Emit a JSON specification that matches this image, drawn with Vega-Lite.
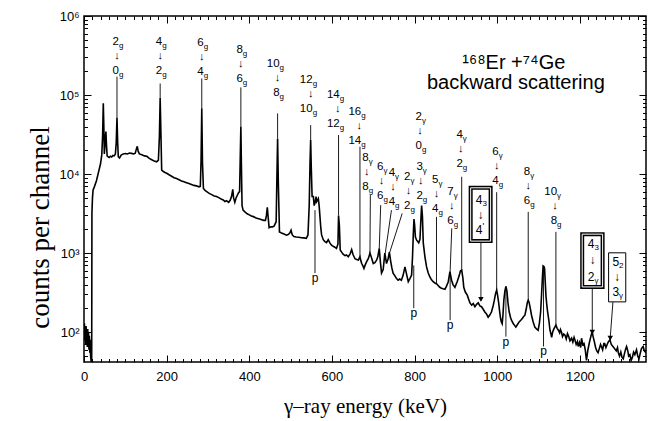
{
"$schema":"https://vega.github.io/schema/vega-lite/v6.json",
"width":562,"height":346,
"autosize":{"type":"none"},
"padding":{"left":84,"top":16,"right":3,"bottom":59},
"background":"white",
"config":{
 "view":{"stroke":"black","strokeWidth":1.5},
 "mark":{"color":"black"},
 "axis":{"domain":false,"grid":false,"tickColor":"black","tickWidth":1,"labelColor":"black","labelFont":"Liberation Sans","labelFontSize":13,"titleColor":"black","titleFont":"Liberation Serif","titleFontSize":21,"titleFontWeight":"normal","labelFlush":false},
 "text":{"font":"Liberation Sans","color":"black","fill":"black"}
},
"datasets":{
"spec":[
{"E":0,"c":95},{"E":1,"c":130},{"E":2,"c":80},{"E":3,"c":115},{"E":4,"c":70},{"E":5,"c":120},{"E":6,"c":90},{"E":7,"c":105},{"E":8,"c":65},{"E":9,"c":110},{"E":10,"c":75},{"E":11,"c":100},{"E":12,"c":60},{"E":13,"c":90},{"E":14,"c":55},{"E":15,"c":80},{"E":16,"c":50},{"E":17,"c":44},{"E":18,"c":42},{"E":18.6,"c":42},{"E":19.2,"c":3200},{"E":20.5,"c":5000},{"E":22,"c":6300},{"E":25,"c":6900},{"E":30,"c":8200},{"E":35,"c":10500},{"E":40,"c":13500},{"E":43,"c":17500},{"E":45,"c":30000},{"E":46.7,"c":79000},{"E":48,"c":40000},{"E":49.2,"c":18000},{"E":50.5,"c":22000},{"E":52,"c":30000},{"E":53,"c":34600},{"E":54.3,"c":24000},{"E":56,"c":17000},{"E":58,"c":16600},{"E":61,"c":16200},{"E":64,"c":16800},{"E":67,"c":16500},{"E":70,"c":17200},{"E":73,"c":17000},{"E":76,"c":18000},{"E":78,"c":25000},{"E":79.8,"c":52000},{"E":81.5,"c":25000},{"E":83,"c":16600},{"E":86,"c":16000},{"E":90,"c":17400},{"E":95,"c":18000},{"E":100,"c":18200},{"E":105,"c":18000},{"E":110,"c":18500},{"E":115,"c":18300},{"E":120,"c":18000},{"E":124,"c":18400},{"E":127,"c":21000},{"E":129,"c":22500},{"E":131,"c":19500},{"E":134,"c":18000},{"E":140,"c":17600},{"E":146,"c":17000},{"E":152,"c":16800},{"E":158,"c":15800},{"E":164,"c":15200},{"E":170,"c":14600},{"E":176,"c":14300},{"E":180,"c":15000},{"E":182.5,"c":30000},{"E":184.3,"c":92000},{"E":186,"c":35000},{"E":188,"c":11200},{"E":192,"c":10800},{"E":196,"c":10500},{"E":200,"c":10250},{"E":206,"c":9800},{"E":212,"c":9400},{"E":218,"c":9000},{"E":224,"c":8800},{"E":230,"c":8500},{"E":236,"c":8200},{"E":242,"c":8000},{"E":248,"c":7800},{"E":254,"c":7600},{"E":260,"c":7400},{"E":266,"c":7200},{"E":272,"c":7100},{"E":278,"c":6900},{"E":281.5,"c":7000},{"E":283.3,"c":15000},{"E":285,"c":68000},{"E":286.7,"c":14000},{"E":289,"c":6600},{"E":293,"c":6200},{"E":297,"c":6000},{"E":303,"c":5700},{"E":309,"c":5500},{"E":315,"c":5300},{"E":321,"c":5200},{"E":327,"c":5000},{"E":333,"c":4800},{"E":337,"c":4700},{"E":341,"c":4500},{"E":345,"c":4600},{"E":350,"c":4400},{"E":354,"c":4700},{"E":357,"c":5200},{"E":360,"c":6400},{"E":362,"c":5000},{"E":365,"c":4400},{"E":368,"c":5000},{"E":371,"c":5400},{"E":374,"c":5800},{"E":376.5,"c":6000},{"E":378,"c":15000},{"E":379.6,"c":40000},{"E":381,"c":12000},{"E":382.5,"c":4000},{"E":385,"c":3500},{"E":390,"c":3300},{"E":395,"c":3150},{"E":400,"c":3050},{"E":405,"c":2950},{"E":410,"c":2900},{"E":415,"c":2800},{"E":420,"c":2750},{"E":425,"c":2700},{"E":430,"c":2650},{"E":435,"c":2600},{"E":439,"c":2600},{"E":441.5,"c":3000},{"E":443.6,"c":3800},{"E":445.5,"c":2900},{"E":448,"c":2100},{"E":452,"c":2150},{"E":456,"c":2150},{"E":460,"c":2200},{"E":465,"c":2500},{"E":466.8,"c":9000},{"E":468.5,"c":28000},{"E":470.2,"c":8000},{"E":473,"c":1850},{"E":478,"c":1800},{"E":484,"c":1750},{"E":490,"c":1690},{"E":494,"c":1720},{"E":498,"c":1800},{"E":501,"c":1950},{"E":504,"c":1700},{"E":508,"c":1620},{"E":514,"c":1600},{"E":520,"c":1590},{"E":526,"c":1570},{"E":532,"c":1560},{"E":538,"c":1540},{"E":542,"c":1700},{"E":545,"c":4000},{"E":547,"c":14000},{"E":548.5,"c":27000},{"E":550,"c":12000},{"E":552,"c":5200},{"E":555,"c":5200},{"E":557,"c":4000},{"E":559,"c":4300},{"E":561.5,"c":5200},{"E":563,"c":4500},{"E":565,"c":4700},{"E":567,"c":4900},{"E":569,"c":4000},{"E":571,"c":2900},{"E":573,"c":2100},{"E":575,"c":1700},{"E":579,"c":1480},{"E":583,"c":1400},{"E":587,"c":1360},{"E":591,"c":1480},{"E":595,"c":1350},{"E":599,"c":1260},{"E":603,"c":1220},{"E":607,"c":1190},{"E":611,"c":1150},{"E":614.5,"c":1300},{"E":616,"c":3000},{"E":618,"c":2200},{"E":620,"c":1100},{"E":623.5,"c":1030},{"E":627,"c":970},{"E":631.5,"c":930},{"E":635,"c":950},{"E":639.5,"c":900},{"E":644,"c":980},{"E":647.7,"c":1110},{"E":651,"c":960},{"E":655.7,"c":850},{"E":660,"c":830},{"E":664,"c":820},{"E":667.8,"c":900},{"E":670,"c":800},{"E":672,"c":740},{"E":675,"c":690},{"E":677.5,"c":640},{"E":680,"c":700},{"E":684,"c":780},{"E":688,"c":850},{"E":692,"c":1000},{"E":695,"c":900},{"E":700,"c":740},{"E":704,"c":760},{"E":708,"c":815},{"E":711,"c":900},{"E":714.5,"c":1150},{"E":717,"c":800},{"E":720,"c":560},{"E":724,"c":620},{"E":728,"c":1000},{"E":732,"c":740},{"E":736,"c":850},{"E":739,"c":1030},{"E":742,"c":800},{"E":745,"c":650},{"E":748,"c":560},{"E":752,"c":520},{"E":756,"c":480},{"E":760,"c":455},{"E":764,"c":470},{"E":768,"c":455},{"E":772,"c":520},{"E":776.7,"c":670},{"E":780,"c":560},{"E":784.7,"c":435},{"E":789,"c":480},{"E":792.8,"c":527},{"E":795,"c":900},{"E":797,"c":1800},{"E":798.5,"c":2700},{"E":800,"c":2300},{"E":802,"c":1600},{"E":805,"c":1460},{"E":810,"c":1350},{"E":813,"c":1500},{"E":815,"c":2500},{"E":817,"c":4000},{"E":819,"c":2900},{"E":821,"c":1350},{"E":825,"c":900},{"E":829,"c":670},{"E":833,"c":560},{"E":837,"c":500},{"E":841,"c":460},{"E":845,"c":435},{"E":849,"c":420},{"E":853,"c":410},{"E":857,"c":390},{"E":861,"c":370},{"E":865,"c":360},{"E":869,"c":355},{"E":873.5,"c":350},{"E":877,"c":380},{"E":881.5,"c":435},{"E":885.5,"c":585},{"E":889.5,"c":455},{"E":893,"c":400},{"E":897.6,"c":370},{"E":903,"c":435},{"E":908,"c":520},{"E":911,"c":600},{"E":914,"c":610},{"E":917,"c":480},{"E":919,"c":370},{"E":923,"c":320},{"E":927.5,"c":294},{"E":931,"c":260},{"E":934,"c":235},{"E":938,"c":220},{"E":942,"c":230},{"E":946,"c":210},{"E":950,"c":225},{"E":954,"c":235},{"E":958,"c":215},{"E":962,"c":210},{"E":966,"c":195},{"E":970,"c":180},{"E":974,"c":170},{"E":978,"c":155},{"E":982,"c":165},{"E":986,"c":180},{"E":990,"c":215},{"E":993,"c":254},{"E":996,"c":310},{"E":998.6,"c":340},{"E":1001,"c":290},{"E":1003.5,"c":235},{"E":1006,"c":180},{"E":1008,"c":150},{"E":1010,"c":135},{"E":1012,"c":128},{"E":1014,"c":170},{"E":1016,"c":254},{"E":1018.5,"c":330},{"E":1021,"c":380},{"E":1023.5,"c":330},{"E":1026,"c":235},{"E":1029,"c":180},{"E":1032,"c":155},{"E":1035,"c":140},{"E":1039,"c":128},{"E":1042,"c":122},{"E":1045,"c":116},{"E":1049,"c":125},{"E":1053,"c":135},{"E":1057,"c":142},{"E":1061,"c":150},{"E":1064,"c":158},{"E":1067,"c":164},{"E":1070,"c":195},{"E":1073,"c":240},{"E":1075,"c":254},{"E":1077,"c":240},{"E":1080,"c":200},{"E":1083,"c":164},{"E":1087,"c":135},{"E":1091,"c":116},{"E":1095,"c":110},{"E":1099,"c":106},{"E":1102,"c":130},{"E":1105,"c":180},{"E":1107,"c":280},{"E":1109,"c":450},{"E":1111,"c":690},{"E":1113,"c":680},{"E":1114.5,"c":640},{"E":1116,"c":450},{"E":1118,"c":285},{"E":1120,"c":220},{"E":1122,"c":180},{"E":1125,"c":140},{"E":1127.6,"c":106},{"E":1130,"c":95},{"E":1131.7,"c":86},{"E":1134,"c":100},{"E":1137,"c":110},{"E":1140,"c":118},{"E":1142,"c":123},{"E":1145,"c":112},{"E":1148,"c":106},{"E":1151,"c":98},{"E":1153,"c":108},{"E":1155.6,"c":100},{"E":1158,"c":88},{"E":1161,"c":95},{"E":1164,"c":92},{"E":1167,"c":82},{"E":1170,"c":96},{"E":1173,"c":88},{"E":1176,"c":78},{"E":1180,"c":84},{"E":1183,"c":75},{"E":1186,"c":86},{"E":1188,"c":80},{"E":1191,"c":70},{"E":1194,"c":76},{"E":1196,"c":66},{"E":1199,"c":74},{"E":1202,"c":64},{"E":1204,"c":84},{"E":1207,"c":70},{"E":1210,"c":72},{"E":1213,"c":60},{"E":1216,"c":44},{"E":1219,"c":58},{"E":1221,"c":66},{"E":1224,"c":78},{"E":1226,"c":86},{"E":1228,"c":95},{"E":1230,"c":100},{"E":1232,"c":88},{"E":1235,"c":76},{"E":1238,"c":64},{"E":1241,"c":58},{"E":1244,"c":55},{"E":1247,"c":62},{"E":1250,"c":70},{"E":1252,"c":66},{"E":1255,"c":60},{"E":1258,"c":72},{"E":1260,"c":72},{"E":1263,"c":64},{"E":1266,"c":70},{"E":1269,"c":76},{"E":1272.7,"c":80},{"E":1276,"c":70},{"E":1280,"c":66},{"E":1284,"c":62},{"E":1288,"c":58},{"E":1291,"c":64},{"E":1293,"c":55},{"E":1296,"c":50},{"E":1299,"c":56},{"E":1302,"c":48},{"E":1305,"c":46},{"E":1308,"c":54},{"E":1311,"c":62},{"E":1313,"c":66},{"E":1316,"c":58},{"E":1318,"c":50},{"E":1321,"c":52},{"E":1324,"c":44},{"E":1327,"c":48},{"E":1330,"c":56},{"E":1333,"c":52},{"E":1337,"c":60},{"E":1340,"c":50},{"E":1343,"c":46},{"E":1346,"c":54},{"E":1349,"c":62},{"E":1353,"c":66},{"E":1356,"c":58},{"E":1360,"c":55}
],
"leaders":[
{"E":79.8,"c":171000,"E2":79.8,"c2":52000},{"E":184.3,"c":140000,"E2":184.3,"c2":92000},{"E":285,"c":162000,"E2":285,"c2":68000},{"E":379.6,"c":125000,"E2":379.6,"c2":40000},{"E":468.5,"c":58600,"E2":468.5,"c2":28000},{"E":548.5,"c":41700,"E2":548.5,"c2":27000},{"E":616,"c":31200,"E2":616,"c2":3000},{"E":667.8,"c":22200,"E2":667.8,"c2":900},
{"E":914,"c":9250,"E2":914,"c2":610},{"E":998.6,"c":5910,"E2":998.6,"c2":340},{"E":1075,"c":3330,"E2":1075,"c2":254},{"E":1142,"c":1860,"E2":1142,"c2":123},{"E":853,"c":2880,"E2":853,"c2":413},{"E":890,"c":2060,"E2":886,"c2":585},{"E":744,"c":3500,"E2":729,"c2":1000},{"E":770,"c":3180,"E2":740,"c2":1030},{"E":718,"c":4050,"E2":714.5,"c2":1150},{"E":693,"c":5420,"E2":692,"c2":1000},
{"E":559,"c":3500,"E2":559,"c2":560},{"E":798,"c":700,"E2":798,"c2":201},{"E":886,"c":585,"E2":886,"c2":142},{"E":1021,"c":380,"E2":1021,"c2":88},{"E":1112,"c":690,"E2":1112,"c2":66},
{"E":960.5,"c":1420,"E2":960.5,"c2":250},{"E":1230,"c":374,"E2":1230,"c2":95},{"E":1280,"c":242,"E2":1273,"c2":80}
],
"labs":[
{"E":79.8,"c":469000,"a":"2","as":"g","b":"0","bs":"g"},
{"E":184.3,"c":469000,"a":"4","as":"g","b":"2","bs":"g"},
{"E":285,"c":455000,"a":"6","as":"g","b":"4","bs":"g"},
{"E":379.6,"c":372000,"a":"8","as":"g","b":"6","bs":"g"},
{"E":468.5,"c":247000,"a":"10","as":"g","b":"8","bs":"g"},
{"E":548.5,"c":155000,"a":"12","as":"g","b":"10","bs":"g"},
{"E":614,"c":100000,"a":"14","as":"g","b":"12","bs":"g"},
{"E":666,"c":61000,"a":"16","as":"g","b":"14","bs":"g"},
{"E":813,"c":52700,"a":"2","as":"γ","b":"0","bs":"g"},
{"E":815,"c":12300,"a":"3","as":"γ","b":"2","bs":"g"},
{"E":912,"c":31200,"a":"4","as":"γ","b":"2","bs":"g"},
{"E":998.6,"c":19000,"a":"6","as":"γ","b":"4","bs":"g"},
{"E":1075,"c":10600,"a":"8","as":"γ","b":"6","bs":"g"},
{"E":1140,"c":5910,"a":"10","as":"γ","b":"8","bs":"g"},
{"E":853,"c":8400,"a":"5","as":"γ","b":"4","bs":"g"},
{"E":889.7,"c":5910,"a":"7","as":"γ","b":"6","bs":"g"},
{"E":748,"c":10300,"a":"4","as":"γ","b":"4","bs":"g"},
{"E":785,"c":9170,"a":"2","as":"γ","b":"2","bs":"g"},
{"E":720,"c":12300,"a":"6","as":"γ","b":"6","bs":"g"},
{"E":684,"c":15900,"a":"8","as":"γ","b":"8","bs":"g"}
],
"plabs":[{"E":559,"c":560},{"E":798,"c":201},{"E":886,"c":142},{"E":1021,"c":88},{"E":1112,"c":66}],
"heads":[{"E":960.5,"c":260},{"E":1230,"c":100},{"E":1273.5,"c":84}],
"boxes":[{"E":935.7,"E2":984,"c":1420,"c2":6710,"d":1},{"E":1205.6,"E2":1255,"c":374,"c2":1740,"d":1},{"E":1269.5,"E2":1311,"c":242,"c2":1010,"d":0}],
"boxt":[{"E":959.5,"c":4690,"t":"4","s":"3","p":""},{"E":959.5,"c":1950,"t":"4","s":"","p":"'"},{"E":1230.3,"c":1300,"t":"4","s":"3","p":""},{"E":1230.3,"c":500,"t":"2","s":"γ","p":""},{"E":1290,"c":777,"t":"5","s":"2","p":""},{"E":1290,"c":322,"t":"3","s":"γ","p":""}],
"boxa":[{"E":959.5,"c":3030},{"E":1230.3,"c":828},{"E":1290,"c":500}],
"ttl":[{"E":1040,"c":252000,"t":"¹⁶⁸Er +⁷⁴Ge"},{"E":1045,"c":140600,"t":"backward scattering"}]
},
"layer":[
{"data":{"name":"spec"},
 "mark":{"type":"line","color":"black","strokeWidth":1.6,"clip":true},
 "encoding":{
  "x":{"field":"E","type":"quantitative","scale":{"domain":[0,1360],"nice":false,"zero":false},
       "axis":{"orient":"bottom","values":[0,200,400,600,800,1000,1200],"format":"d","tickSize":-7,"labelPadding":15,"title":"γ–ray energy (keV)","titlePadding":12}},
  "y":{"field":"c","type":"quantitative","scale":{"type":"log","domain":[42,1000000],"nice":false},
       "axis":{"orient":"left","values":[100,1000,10000,100000,1000000],"tickSize":-7,"labelPadding":12,
        "labelExpr":"datum.value >= 999999 ? '10⁶' : datum.value >= 99999 ? '10⁵' : datum.value >= 9999 ? '10⁴' : datum.value >= 999 ? '10³' : '10²'",
        "title":"counts per channel","titleFontSize":27,"titleX":-44,"titleY":211,"titleAngle":270,"titleBaseline":"middle","titleAlign":"center"}}
 }},
{"data":{"name":"leaders"},
 "mark":{"type":"rule","color":"black","strokeWidth":0.9},
 "encoding":{
  "x":{"field":"E","type":"quantitative","scale":{"domain":[0,1360],"nice":false,"zero":false},
       "axis":{"orient":"bottom","values":[20,40,60,80,100,120,140,160,180,220,240,260,280,300,320,340,360,380,420,440,460,480,500,520,540,560,580,620,640,660,680,700,720,740,760,780,820,840,860,880,900,920,940,960,980,1020,1040,1060,1080,1100,1120,1140,1160,1180,1220,1240,1260,1280,1300,1320,1340],"tickSize":-3.5,"labels":false,"title":null}},
  "x2":{"field":"E2"},
  "y":{"field":"c","type":"quantitative","scale":{"type":"log","domain":[42,1000000],"nice":false},
       "axis":{"orient":"left","values":[50,60,70,80,90,200,300,400,500,600,700,800,900,2000,3000,4000,5000,6000,7000,8000,9000,20000,30000,40000,50000,60000,70000,80000,90000,200000,300000,400000,500000,600000,700000,800000,900000],"tickSize":-3.5,"labels":false,"title":null}},
  "y2":{"field":"c2"}
 }},
{"data":{"name":"labs"},
 "mark":{"type":"text","align":"right","baseline":"middle","dx":2,"fontSize":11.5,"color":"black"},
 "encoding":{
  "x":{"field":"E","type":"quantitative","axis":{"orient":"top","values":[0,200,400,600,800,1000,1200],"tickSize":-7,"labels":false,"title":null}},
  "y":{"field":"c","type":"quantitative","axis":{"orient":"right","values":[100,1000,10000,100000,1000000],"tickSize":-7,"labels":false,"title":null}},
  "text":{"field":"a"}
 }},
{"data":{"name":"labs"},
 "mark":{"type":"text","align":"left","baseline":"middle","dx":2,"dy":4,"fontSize":8,"color":"black"},
 "encoding":{
  "x":{"field":"E","type":"quantitative","axis":{"orient":"top","values":[20,40,60,80,100,120,140,160,180,220,240,260,280,300,320,340,360,380,420,440,460,480,500,520,540,560,580,620,640,660,680,700,720,740,760,780,820,840,860,880,900,920,940,960,980,1020,1040,1060,1080,1100,1120,1140,1160,1180,1220,1240,1260,1280,1300,1320,1340],"tickSize":-3.5,"labels":false,"title":null}},
  "y":{"field":"c","type":"quantitative","axis":{"orient":"right","values":[50,60,70,80,90,200,300,400,500,600,700,800,900,2000,3000,4000,5000,6000,7000,8000,9000,20000,30000,40000,50000,60000,70000,80000,90000,200000,300000,400000,500000,600000,700000,800000,900000],"tickSize":-3.5,"labels":false,"title":null}},
  "text":{"field":"as"}
 }},
{"data":{"name":"labs"},
 "mark":{"type":"text","align":"center","baseline":"middle","dy":14,"fontSize":11,"color":"black"},
 "encoding":{"x":{"field":"E","type":"quantitative","axis":null},"y":{"field":"c","type":"quantitative","axis":null},"text":{"value":"↓"}}},
{"data":{"name":"labs"},
 "mark":{"type":"text","align":"right","baseline":"middle","dx":2,"dy":29,"fontSize":11.5,"color":"black"},
 "encoding":{"x":{"field":"E","type":"quantitative","axis":null},"y":{"field":"c","type":"quantitative","axis":null},"text":{"field":"b"}}},
{"data":{"name":"labs"},
 "mark":{"type":"text","align":"left","baseline":"middle","dx":2,"dy":33,"fontSize":8,"color":"black"},
 "encoding":{"x":{"field":"E","type":"quantitative","axis":null},"y":{"field":"c","type":"quantitative","axis":null},"text":{"field":"bs"}}},
{"data":{"name":"plabs"},
 "mark":{"type":"text","align":"center","baseline":"top","dy":0,"fontSize":12,"color":"black"},
 "encoding":{"x":{"field":"E","type":"quantitative","axis":null},"y":{"field":"c","type":"quantitative","axis":null},"text":{"value":"p"}}},
{"data":{"name":"boxes"},
 "transform":[{"filter":"datum.d == 1"}],
 "mark":{"type":"rect","fill":"white","stroke":"black","strokeWidth":4},
 "encoding":{"x":{"field":"E","type":"quantitative","axis":null},"x2":{"field":"E2"},"y":{"field":"c","type":"quantitative","axis":null},"y2":{"field":"c2"}}},
{"data":{"name":"boxes"},
 "transform":[{"filter":"datum.d == 1"}],
 "mark":{"type":"rect","fill":null,"fillOpacity":0,"stroke":"white","strokeWidth":1},
 "encoding":{"x":{"field":"E","type":"quantitative","axis":null},"x2":{"field":"E2"},"y":{"field":"c","type":"quantitative","axis":null},"y2":{"field":"c2"}}},
{"data":{"name":"boxes"},
 "transform":[{"filter":"datum.d == 0"}],
 "mark":{"type":"rect","fill":"white","stroke":"black","strokeWidth":1},
 "encoding":{"x":{"field":"E","type":"quantitative","axis":null},"x2":{"field":"E2"},"y":{"field":"c","type":"quantitative","axis":null},"y2":{"field":"c2"}}},
{"data":{"name":"boxt"},
 "mark":{"type":"text","align":"right","baseline":"middle","dx":2,"fontSize":12,"color":"black"},
 "encoding":{"x":{"field":"E","type":"quantitative","axis":null},"y":{"field":"c","type":"quantitative","axis":null},"text":{"field":"t"}}},
{"data":{"name":"boxt"},
 "mark":{"type":"text","align":"left","baseline":"middle","dx":2,"dy":4,"fontSize":8,"color":"black"},
 "encoding":{"x":{"field":"E","type":"quantitative","axis":null},"y":{"field":"c","type":"quantitative","axis":null},"text":{"field":"s"}}},
{"data":{"name":"boxt"},
 "mark":{"type":"text","align":"left","baseline":"middle","dx":2,"dy":-4,"fontSize":9,"color":"black"},
 "encoding":{"x":{"field":"E","type":"quantitative","axis":null},"y":{"field":"c","type":"quantitative","axis":null},"text":{"field":"p"}}},
{"data":{"name":"boxa"},
 "mark":{"type":"text","align":"center","baseline":"middle","fontSize":12,"color":"black"},
 "encoding":{"x":{"field":"E","type":"quantitative","axis":null},"y":{"field":"c","type":"quantitative","axis":null},"text":{"value":"↓"}}},
{"data":{"name":"heads"},
 "mark":{"type":"point","shape":"triangle-down","filled":true,"color":"black","size":30,"opacity":1},
 "encoding":{"x":{"field":"E","type":"quantitative","axis":null},"y":{"field":"c","type":"quantitative","axis":null}}},
{"data":{"name":"ttl"},
 "mark":{"type":"text","align":"center","baseline":"middle","fontSize":20,"color":"black"},
 "encoding":{"x":{"field":"E","type":"quantitative","axis":null},"y":{"field":"c","type":"quantitative","axis":null},"text":{"field":"t"}}}
],
"resolve":{"axis":{"x":"independent","y":"independent"}}
}
